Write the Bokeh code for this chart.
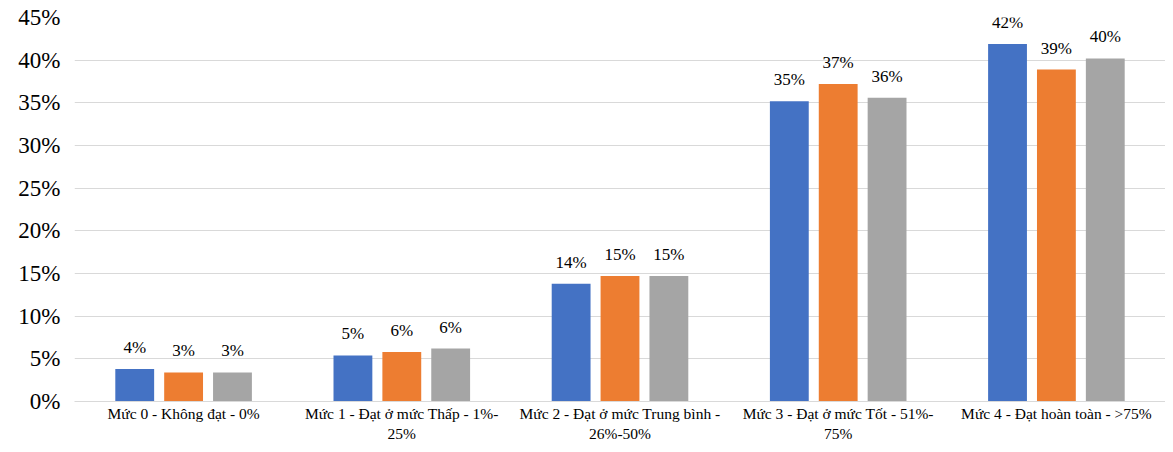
from bokeh.plotting import figure
from bokeh.models import ColumnDataSource, FixedTicker, NumeralTickFormatter, Range1d
from bokeh.embed import file_html
from bokeh.resources import INLINE
from bokeh.core.properties import value

categories = [
    "Mức 0 - Không đạt - 0%",
    "Mức 1 - Đạt ở mức Thấp - 1%-\n25%",
    "Mức 2 - Đạt ở mức Trung bình -\n26%-50%",
    "Mức 3 - Đạt ở mức Tốt - 51%-\n75%",
    "Mức 4 - Đạt hoàn toàn - >75%",
]
series_a = [0.038, 0.054, 0.138, 0.352, 0.419]
series_b = [0.034, 0.058, 0.147, 0.372, 0.389]
series_c = [0.034, 0.062, 0.147, 0.356, 0.402]
colors = ["#4472C4", "#ED7D31", "#A5A5A5"]
y_ticks = [0, 0.05, 0.10, 0.15, 0.20, 0.25, 0.30, 0.35, 0.40, 0.45]

FONT = "Times New Roman"

p = figure(width=1165, height=444, output_backend="svg", toolbar_location=None,
           x_range=Range1d(-0.5, 4.5), y_range=Range1d(0, 0.45),
           min_border_left=74, min_border_right=0, min_border_top=17, min_border_bottom=36)
p.outline_line_color = None
p.background_fill_color = "white"
p.border_fill_color = "white"

offsets = [-0.224, 0.0, 0.224]
xs = list(range(len(categories)))
for series, off, col in zip([series_a, series_b, series_c], offsets, colors):
    src = ColumnDataSource(dict(
        x=[x + off for x in xs],
        top=series,
        label=[f"{round(v * 100):.0f}%" for v in series],
    ))
    p.vbar(x="x", top="top", width=0.178, source=src, fill_color=col, line_color=None)
    p.text(x="x", y="top", text="label", source=src, text_align="center",
           text_baseline="bottom", y_offset=-12, text_font=value(FONT),
           text_font_size="17px", text_color="#000000")

p.yaxis.ticker = FixedTicker(ticks=y_ticks)
p.yaxis.formatter = NumeralTickFormatter(format="0%")
p.yaxis.axis_line_color = None
p.yaxis.major_tick_line_color = None
p.yaxis.minor_tick_line_color = None
p.yaxis.major_label_text_font = FONT
p.yaxis.major_label_text_font_size = "23px"
p.yaxis.major_label_text_color = "#000000"
p.yaxis.major_label_standoff = 8

p.xaxis.ticker = FixedTicker(ticks=xs)
p.xaxis.major_label_overrides = {i: c for i, c in enumerate(categories)}
p.xaxis.axis_line_color = "#D9D9D9"
p.xaxis.axis_line_width = 1
p.xaxis.major_tick_line_color = None
p.xaxis.major_tick_in = 0
p.xaxis.major_tick_out = 0
p.xaxis.minor_tick_line_color = None
p.xaxis.major_label_text_font = FONT
p.xaxis.major_label_text_font_size = "15.5px"
p.xaxis.major_label_text_color = "#000000"
p.xaxis.major_label_standoff = 3

p.xgrid.grid_line_color = None
p.ygrid.grid_line_color = "#D9D9D9"
p.ygrid.grid_line_width = 1

open("out.html", "w").write(file_html(p, INLINE))
